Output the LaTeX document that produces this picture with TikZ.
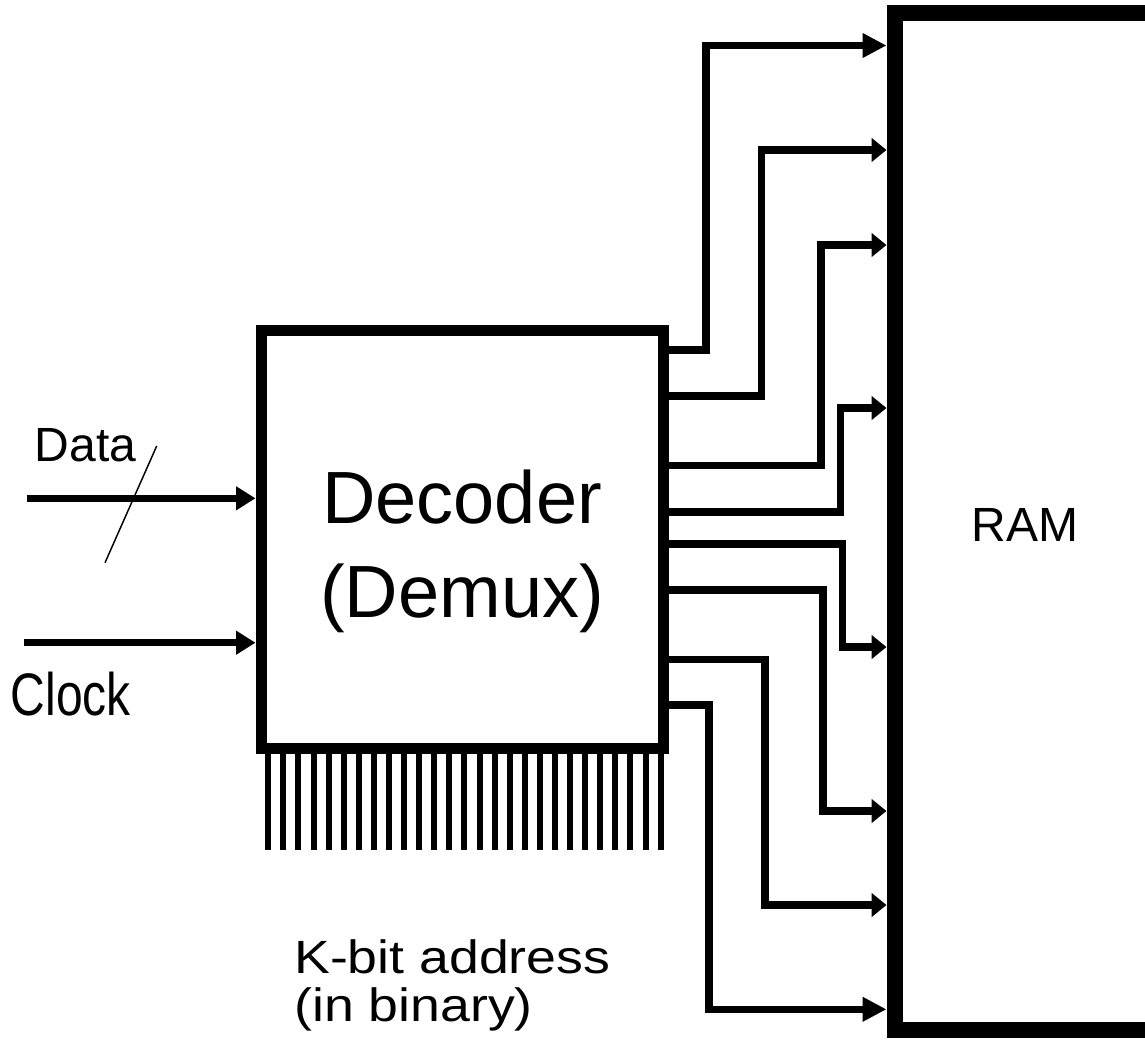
\documentclass[tikz,border=0pt]{standalone}
\usepackage{fontspec}
\setmainfont{Liberation Sans}
\usetikzlibrary{arrows.meta}
\begin{document}
\begin{tikzpicture}[x=0.75pt,y=-0.75pt,
  box/.style={draw, line width=8.25pt, inner sep=0pt},
  rambox/.style={draw, line width=12pt, inner sep=0pt},
  conn/.style={line width=5.6pt},
  tipof/.style={-{Triangle[length=#1,width=17.5pt]}},
  inarrow/.style={line width=5pt,-{Triangle[length=14.5pt,width=17pt]}},
  pinline/.style={line width=4.5pt},
  slashline/.style={line width=1.1pt},
  lbl/.style={inner sep=0pt, font=\fontsize{36}{43}\selectfont},
]
\useasboundingbox (0,0) rectangle (1145,1051);
\clip (0,0) rectangle (1145,1051);

% boxes
\node[rambox, minimum width=304.125pt, minimum height=762.375pt] (ram) at (1097.25,521.25) {};
\node[box, minimum width=301.875pt, minimum height=313.5pt] (dec) at (462.25,539) {};

% address pins
\foreach \i in {0,...,26}
  \draw[pinline] (dec.south west) ++(12.8+15.09*\i,0) -- ++(0,96);

% output lines
\foreach \ya/\xv/\yb/\tl in {350/706/45.5/18pt, 396/761.5/150/11.25pt, 465.7/821/245/11.25pt, 512/840.3/408/11.25pt, 544/842.3/647/11.25pt, 590/823/811/11.25pt, 659.3/765/905/11.25pt, 705/709/1009.3/18pt}
  \draw[conn, tipof=\tl] (dec.east |- 0,\ya) -| (\xv,\yb) -- (ram.west |- 0,\yb);

% inputs
\coordinate (datain) at (26.7,498.3);
\draw[inarrow] (datain) -- (datain -| dec.west);
\coordinate (clkin) at (24,642.7);
\draw[inarrow] (clkin) -- (clkin -| dec.west);
\draw[slashline] (156.7,446) -- (105,562.7);

% labels
\node[lbl, anchor=base west] (datalbl) at (34.5,461.7) {Data};
\node[lbl, anchor=base west] (clklbl) at (10.5,715) {\scalebox{1}[1.25]{Clock}};
\node[lbl, anchor=base] (ramlbl) at (1025,541.7) {RAM};
\node[inner sep=0pt, anchor=base, font=\fontsize{55.5}{70.5}\selectfont] (declbl) at (462,523.3) {\begin{tabular}[t]{@{}c@{}}Decoder\\(Demux)\end{tabular}};
\node[inner sep=0pt, anchor=base west, font=\fontsize{35}{35.25}\selectfont] (addrlbl) at (294,973.3) {\scalebox{1.15}[1]{\begin{tabular}[t]{@{}l@{}}K-bit address\\(in binary)\end{tabular}}};
\end{tikzpicture}
\end{document}
